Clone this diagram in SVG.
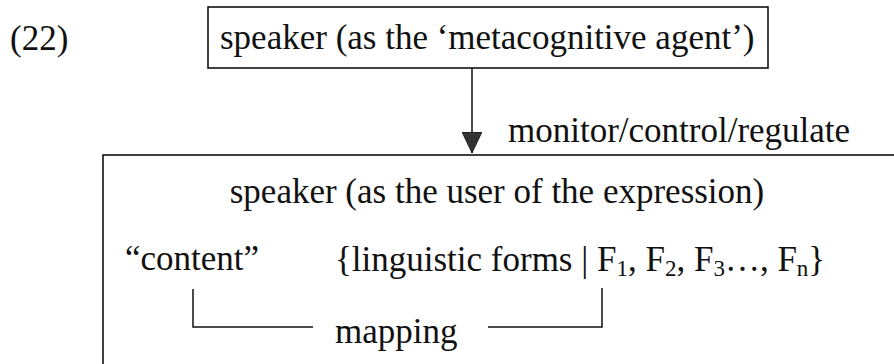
<svg xmlns="http://www.w3.org/2000/svg" width="894" height="364" viewBox="0 0 894 364">
  <style>
    text { font-family: "Liberation Serif", "Times New Roman", serif; font-size: 35px; fill: #111; }
    .box { fill: none; stroke: #111; stroke-width: 1.6; }
    .line { fill: none; stroke: #111; stroke-width: 1.5; }
    .sub { font-size: 23px; }
  </style>
  <defs>
    <!-- filled triangular head, drawn pointing along +x so orient="auto" turns it down the shaft -->
    <marker id="head" viewBox="0 0 21 20" refX="21" refY="10" markerWidth="21" markerHeight="20" markerUnits="userSpaceOnUse" orient="auto">
      <path d="M0,0 L21,10 L0,20 Z" fill="#333" stroke="#111" stroke-width="0.8"/>
    </marker>
  </defs>

  <!-- example number -->
  <text id="label-22" x="10" y="50">(22)</text>

  <!-- speaker as metacognitive agent -->
  <g id="node-agent">
    <rect class="box" x="208" y="7" width="560" height="61"/>
    <text x="220" y="49">speaker (as the ‘metacognitive agent’)</text>
  </g>

  <!-- speaker as user of the expression (frame runs past the page edge) -->
  <g id="node-user">
    <rect class="box" x="103" y="155" width="820" height="240"/>
    <text x="497" y="203" text-anchor="middle">speaker (as the user of the expression)</text>
    <text x="125" y="270">“content”</text>
    <text x="335" y="271">{linguistic forms | F<tspan class="sub" dy="5">1</tspan><tspan dy="-5">, F</tspan><tspan class="sub" dy="5">2</tspan><tspan dy="-5">, F</tspan><tspan class="sub" dy="5">3</tspan><tspan dy="-5">…, F</tspan><tspan class="sub" dy="5">n</tspan><tspan dy="-5">}</tspan></text>
  </g>

  <!-- connectors -->
  <g id="connectors">
    <line class="line" x1="472" y1="68" x2="472" y2="153" marker-end="url(#head)"/>
    <text x="508" y="142">monitor/control/regulate</text>
    <path class="line" d="M193,289 V327 H313"/>
    <path class="line" d="M488,327 H602 V288"/>
    <text x="335" y="343">mapping</text>
  </g>
</svg>
